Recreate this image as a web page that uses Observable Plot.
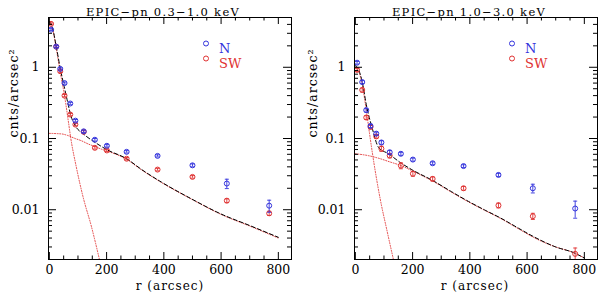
<!DOCTYPE html>
<html><head><meta charset="utf-8">
<script src="https://cdn.jsdelivr.net/npm/d3@7"></script>
<script src="https://cdn.jsdelivr.net/npm/@observablehq/plot@0.6"></script>
<style>
body{margin:0;background:#fff;}
#wrap{position:relative;width:600px;height:297px;background:#fff;}
#wrap svg{position:absolute;top:0;}
</style></head><body><div id="wrap"></div>
<script>
// ---- data ----
const radii = [6, 24, 38, 53, 73, 91, 120, 159, 201, 270, 378, 500, 620, 768];

// EPIC-pn 0.3-1.0 keV
const softN     = [3.38, 1.95, 0.95, 0.60, 0.31, 0.178, 0.126, 0.096, 0.079, 0.065, 0.057, 0.042, 0.0233, 0.0114];
const softNerr  = [0.10, 0.06, 0.03, 0.02, 0.012, 0.007, 0.005, 0.004, 0.003, 0.0025, 0.002, 0.002, 0.0035, 0.0022];
const softSW    = [4.07, 1.95, 0.88, 0.40, 0.217, 0.157, 0.124, 0.074, 0.068, 0.052, 0.0366, 0.0289, 0.0134, 0.0089];
const softSWerr = [0.12, 0.06, 0.03, 0.015, 0.008, 0.006, 0.005, 0.003, 0.0025, 0.002, 0.0015, 0.0012, 0.0008, 0.0006];

const softTotalR = [0, 10, 24, 38, 53, 65, 75, 91, 120, 160, 200, 270, 321, 391, 495, 600, 700, 800];
const softTotal  = [4.4, 3.7, 1.97, 0.97, 0.51, 0.31, 0.21, 0.15, 0.115, 0.088, 0.070, 0.052, 0.037, 0.0245, 0.0143, 0.0087, 0.0060, 0.0041];
const softCoreR  = [0, 10, 24, 38, 53, 65, 75, 94, 118, 147, 175];
const softCore   = [4.3, 3.6, 1.85, 0.85, 0.40, 0.19, 0.10, 0.040, 0.015, 0.0058, 0.002];
const softHaloR  = [0, 42, 65, 90, 112, 135, 160, 181, 200, 270, 321, 391, 495, 600, 700, 800];
const softHalo   = [0.118, 0.116, 0.11, 0.10, 0.093, 0.084, 0.077, 0.071, 0.067, 0.051, 0.0365, 0.0242, 0.0142, 0.0086, 0.0059, 0.0040];

// EPIC-pn 1.0-3.0 keV
const hardN     = [1.16, 0.62, 0.25, 0.15, 0.117, 0.088, 0.064, 0.061, 0.0506, 0.0449, 0.041, 0.0308, 0.020, 0.0104];
const hardNerr  = [0.05, 0.03, 0.015, 0.008, 0.006, 0.005, 0.004, 0.003, 0.0025, 0.002, 0.0018, 0.0016, 0.0028, 0.0028];
const hardSW    = [0.92, 0.48, 0.197, 0.145, 0.107, 0.072, 0.0575, 0.0416, 0.032, 0.0271, 0.020, 0.0115, 0.0081, 0.0024];
const hardSWerr = [0.05, 0.03, 0.012, 0.008, 0.006, 0.006, 0.004, 0.004, 0.0025, 0.0018, 0.0012, 0.0009, 0.0008, 0.0005];

const hardTotalR = [0, 7, 23, 40, 58, 81, 116, 157, 200, 272, 330, 389, 450, 506, 570, 622, 700, 762, 800];
const hardTotal  = [1.05, 1.0, 0.65, 0.275, 0.144, 0.075, 0.061, 0.046, 0.036, 0.0255, 0.0185, 0.0135, 0.0100, 0.0077, 0.0055, 0.0042, 0.0030, 0.0025, 0.0021];
const hardCoreR  = [0, 7, 23, 40, 52, 65, 87, 110, 133];
const hardCore   = [0.99, 0.95, 0.60, 0.22, 0.10, 0.045, 0.014, 0.0052, 0.002];
const hardHaloR  = [0, 40, 80, 120, 157, 200, 272, 330, 389, 450, 506, 570, 622, 700, 762, 800];
const hardHalo   = [0.061, 0.058, 0.053, 0.047, 0.042, 0.035, 0.025, 0.0182, 0.0133, 0.0099, 0.0076, 0.0054, 0.0041, 0.0030, 0.0025, 0.0021];

// tick values
const xMajorTicks = [0, 200, 400, 600, 800];
const xMinorTicks = [50, 100, 150, 250, 300, 350, 450, 500, 550, 650, 700, 750];
const yMajorTicks = [0.01, 0.1, 1];
const yMinorTicks = [0.002,0.003,0.004,0.005,0.006,0.007,0.008,0.009,0.02,0.03,0.04,0.05,0.06,0.07,0.08,0.09,0.2,0.3,0.4,0.5,0.6,0.7,0.8,0.9,2,3,4,5];
const seriesNames = ["N", "SW"];
const yLabel = "cnts/arcsec²";
const xLabel = "r (arcsec)";

const BLUE = "#3232dc", RED = "#e03232";
const FONT = "'DejaVu Serif', serif";
const hline = {draw(ctx, size) { const s = Math.sqrt(size / Math.PI); ctx.moveTo(-s, 0); ctx.lineTo(s, 0); }};

function panel(o) {
  const height = 297, marginTop = 17, marginBottom = 38;
  const fw = o.width - o.marginLeft - o.marginRight, fh = height - marginTop - marginBottom;
  const pts = (vals, errs) => radii.map((r, i) => ({r, v: vals[i], lo: vals[i] - errs[i], hi: vals[i] + errs[i]}));
  const curve = (rs, vs) => rs.map((r, i) => ({r, v: vs[i]}));
  const N = pts(o.N, o.Nerr), SW = pts(o.SW, o.SWerr);
  const series = (data, color) => [
    Plot.ruleX(data, {x: "r", y1: "lo", y2: "hi", stroke: color, strokeWidth: 0.9, clip: true}),
    Plot.dot(data, {x: "r", y: "lo", symbol: hline, r: 2, stroke: color, strokeWidth: 0.9, fill: "none", clip: true}),
    Plot.dot(data, {x: "r", y: "hi", symbol: hline, r: 2, stroke: color, strokeWidth: 0.9, fill: "none", clip: true}),
    Plot.dot(data, {x: "r", y: "v", r: 2.5, stroke: color, strokeWidth: 1, fill: "none", clip: true})
  ];
  const svg = Plot.plot({
    width: o.width, height, marginTop, marginBottom, marginLeft: o.marginLeft, marginRight: o.marginRight,
    style: {fontFamily: FONT, fontSize: "12px", background: "white", overflow: "visible"},
    x: {domain: [-3, 846]},
    y: {type: "log", domain: [0.002, 5]},
    marks: [
      Plot.line(curve(o.haloR, o.halo), {x: "r", y: "v", stroke: RED, strokeWidth: 0.9, strokeDasharray: "1,1.6", curve: "monotone-x", clip: true}),
      Plot.line(curve(o.coreR, o.core), {x: "r", y: "v", stroke: RED, strokeWidth: 0.9, strokeDasharray: "1,1.6", curve: "monotone-x", clip: true}),
      Plot.line(curve(o.totalR, o.total), {x: "r", y: "v", stroke: "black", strokeWidth: 1, strokeDasharray: "4,2.5", curve: "monotone-x", clip: true}),
      ...series(SW, RED),
      ...series(N, BLUE),
      Plot.frame({stroke: "black", strokeWidth: 1}),
      // inward ticks
      Plot.tickX(xMajorTicks, {x: d => d, insetTop: fh - 7, stroke: "black"}),
      Plot.tickX(xMajorTicks, {x: d => d, insetBottom: fh - 7, stroke: "black"}),
      Plot.tickX(xMinorTicks, {x: d => d, insetTop: fh - 3.5, stroke: "black"}),
      Plot.tickX(xMinorTicks, {x: d => d, insetBottom: fh - 3.5, stroke: "black"}),
      Plot.tickY(yMajorTicks, {y: d => d, insetRight: fw - 8, stroke: "black"}),
      Plot.tickY(yMajorTicks, {y: d => d, insetLeft: fw - 8, stroke: "black"}),
      Plot.tickY(yMinorTicks, {y: d => d, insetRight: fw - 4, stroke: "black"}),
      Plot.tickY(yMinorTicks, {y: d => d, insetLeft: fw - 4, stroke: "black"}),
      Plot.axisX(xMajorTicks, {tickSize: 0, tickPadding: 5.5, label: null, fontSize: 12.5, fill: "black"}),
      Plot.axisY(yMajorTicks, {tickSize: 0, tickPadding: 9, label: null, tickFormat: d => `${d}`, fontSize: 12.5, fill: "black"}),
      // titles and labels
      Plot.text([o.title], {text: d => d, frameAnchor: "top", dy: -9.5, dx: -7, fontSize: 11.5, fill: "black"}),
      Plot.text([xLabel], {text: d => d, frameAnchor: "bottom", dy: 30, dx: o.xLabelDx, fontSize: 12, fill: "black"}),
      Plot.text([yLabel], {text: d => d, frameAnchor: "left", dx: o.yLabelDx, dy: -1, rotate: -90, fontSize: 12.5, fill: "black"}),
      // legend
      Plot.dot([seriesNames[0]], {frameAnchor: "top-left", dx: 157.5, dy: 26, r: 2.5, stroke: BLUE, strokeWidth: 1, fill: "none"}),
      Plot.dot([seriesNames[1]], {frameAnchor: "top-left", dx: 157.5, dy: 41, r: 2.5, stroke: RED, strokeWidth: 1, fill: "none"}),
      Plot.text([seriesNames[0]], {text: d => d, frameAnchor: "top-left", dx: 170.5, dy: 26, textAnchor: "start", fill: BLUE, fontSize: 13}),
      Plot.text([seriesNames[1]], {text: d => d, frameAnchor: "top-left", dx: 170.5, dy: 41, textAnchor: "start", fill: RED, fontSize: 13})
    ]
  });
  svg.style.left = o.left + "px";
  d3.select(svg).selectAll("text").each(function() {
    const t = this.textContent;
    if (t === o.title) this.style.letterSpacing = "1.3px";
    else if (t === xLabel || t === yLabel) this.style.letterSpacing = "1px";
  });
  return svg;
}

const wrap = document.getElementById("wrap");
wrap.appendChild(panel({
  title: "EPIC\u2212pn 0.3\u22121.0 keV", left: 0, width: 300, marginLeft: 48, marginRight: 9,
  N: softN, Nerr: softNerr, SW: softSW, SWerr: softSWerr,
  totalR: softTotalR, total: softTotal, coreR: softCoreR, core: softCore, haloR: softHaloR, halo: softHalo,
  yLabelDx: -35, xLabelDx: 0
}));
wrap.appendChild(panel({
  title: "EPIC\u2212pn 1.0\u22123.0 keV", left: 300, width: 300, marginLeft: 54, marginRight: 3,
  N: hardN, Nerr: hardNerr, SW: hardSW, SWerr: hardSWerr,
  totalR: hardTotalR, total: hardTotal, coreR: hardCoreR, core: hardCore, haloR: hardHaloR, halo: hardHalo,
  yLabelDx: -42, xLabelDx: -1
}));
</script></body></html>
